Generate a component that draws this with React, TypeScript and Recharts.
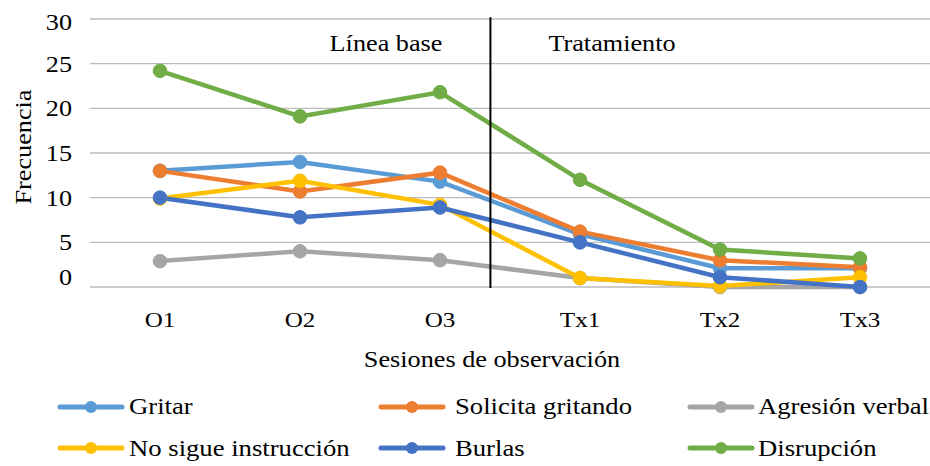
import { LineChart, Line, XAxis, YAxis, CartesianGrid, ReferenceLine } from "recharts";

const categories = ["O1", "O2", "O3", "Tx1", "Tx2", "Tx3"];
const gritar = [13, 14, 11.8, 5.9, 2.1, 2.1];
const solicitaGritando = [13, 10.7, 12.8, 6.2, 3.0, 2.2];
const agresionVerbal = [2.9, 4.0, 3.0, 1.0, 0, 0];
const noSigueInstruccion = [9.9, 11.9, 9.2, 1.0, 0.1, 1.1];
const burlas = [10, 7.8, 8.9, 5.0, 1.1, 0];
const disrupcion = [24.2, 19.1, 21.8, 12.0, 4.2, 3.2];
const yTicks = [0, 5, 10, 15, 20, 25, 30];
const phaseSplit = 2.36; // between O3 and Tx1

const series = [
  { key: "gritar", name: "Gritar", values: gritar, color: "#5B9BD5" },
  { key: "solicita", name: "Solicita gritando", values: solicitaGritando, color: "#ED7D31" },
  { key: "agresion", name: "Agresión verbal", values: agresionVerbal, color: "#A5A5A5" },
  { key: "nosigue", name: "No sigue instrucción", values: noSigueInstruccion, color: "#FFC000" },
  { key: "burlas", name: "Burlas", values: burlas, color: "#4472C4" },
  { key: "disrupcion", name: "Disrupción", values: disrupcion, color: "#70AD47" },
];

const data = categories.map((c, i) => {
  const row: Record<string, number | string> = { idx: i, cat: c };
  for (const s of series) row[s.key] = s.values[i];
  return row;
});

const FONT = "'Liberation Serif', 'DejaVu Serif', serif";
const SX = 1.14;

function StretchText({ x, y, size = 22, anchor = "middle", rotate, sx = SX, children }: any) {
  const t = `translate(${x},${y})${rotate ? ` rotate(${rotate})` : ""} scale(${sx},1)`;
  return (
    <g transform={t}>
      <text x={0} y={0} textAnchor={anchor} style={{ fontFamily: FONT, fontSize: size }} fill="#000">
        {children}
      </text>
    </g>
  );
}

function YTick({ y, payload }: any) {
  const cy = Math.min(Math.max(y, 22), 277);
  return <StretchText x={72} y={cy + 8} size={23} anchor="end">{payload.value}</StretchText>;
}

function XTick({ x, payload }: any) {
  return <StretchText x={x} y={327} size={22}>{categories[payload.value]}</StretchText>;
}

const legendCols = [
  { icon: 60, text: 129 },
  { icon: 381, text: 455 },
  { icon: 690, text: 758 },
];
const legendRows = [
  { cy: 407, base: 414 },
  { cy: 448, base: 456 },
];

export default function App() {
  return (
    <div style={{ position: "absolute", left: 0, top: 0, width: 930, height: 466, background: "#fff", fontFamily: FONT }}>
      <LineChart width={930} height={466} data={data} margin={{ top: 19, right: 0, left: 0, bottom: 0 }}>
        <CartesianGrid vertical={false} stroke="#bcbcbc" strokeWidth={1.3} />
        <XAxis
          dataKey="idx"
          type="number"
          domain={[-0.5, 5.5]}
          ticks={[0, 1, 2, 3, 4, 5]}
          axisLine={false}
          tickLine={false}
          height={179}
          tick={<XTick />}
          interval={0}
        />
        <YAxis
          domain={[0, 30]}
          ticks={yTicks}
          axisLine={false}
          tickLine={false}
          width={90}
          tick={<YTick />}
          interval={0}
        />
        {series.map((s) => (
          <Line
            key={s.key}
            dataKey={s.key}
            name={s.name}
            stroke={s.color}
            strokeWidth={4.5}
            dot={{ r: 6.8, fill: s.color, stroke: s.color, strokeWidth: 1 }}
            activeDot={false}
            isAnimationActive={false}
          />
        ))}
        <ReferenceLine
          segment={[{ x: phaseSplit, y: 30.2 }, { x: phaseSplit, y: -0.1 }]}
          stroke="#000"
          strokeWidth={2}
          ifOverflow="visible"
        />
      </LineChart>
      <svg width={930} height={466} style={{ position: "absolute", left: 0, top: 0, pointerEvents: "none" }}>
        <StretchText x={386} y={51} size={23}>Línea base</StretchText>
        <StretchText x={612} y={51} size={23}>Tratamiento</StretchText>
        <StretchText x={31} y={147} size={23} rotate={-90}>Frecuencia</StretchText>
        <StretchText x={492} y={367} size={23}>Sesiones de observación</StretchText>
        {series.map((s, i) => {
          const col = legendCols[i % 3];
          const row = legendRows[Math.floor(i / 3)];
          return (
            <g key={s.key}>
              <line x1={col.icon} x2={col.icon + 62} y1={row.cy} y2={row.cy} stroke={s.color} strokeWidth={5} strokeLinecap="round" />
              <circle cx={col.icon + 31} cy={row.cy} r={6} fill={s.color} />
              <StretchText x={col.text} y={row.base} size={23} sx={1.16} anchor="start">{s.name}</StretchText>
            </g>
          );
        })}
      </svg>
    </div>
  );
}
